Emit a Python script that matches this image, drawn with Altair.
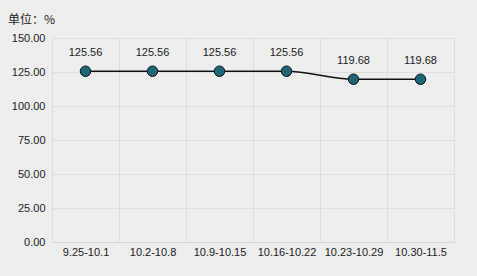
import altair as alt
import pandas as pd

periods = ["9.25-10.1", "10.2-10.8", "10.9-10.15", "10.16-10.22", "10.23-10.29", "10.30-11.5"]
values = [125.56, 125.56, 125.56, 125.56, 119.68, 119.68]
y_ticks = [0, 25, 50, 75, 100, 125, 150]

df = pd.DataFrame({"period": periods, "value": values})

font_num = "Liberation Sans"
font_cjk = "Noto Sans CJK SC"
fs = 11

x = alt.X("period:N", sort=periods, title=None,
          scale=alt.Scale(paddingInner=0, paddingOuter=0),
          axis=alt.Axis(labelAngle=0, labelFont=font_num, labelFontSize=fs, labelColor="#222222",
                        labelPadding=4, ticks=False, domain=True, domainColor="#d8d8d8",
                        grid=True, gridColor="#dedede", tickBand="extent"))
y = alt.Y("value:Q", title=None,
          scale=alt.Scale(domain=[0, 150], nice=False),
          axis=alt.Axis(values=y_ticks, format=".2f", labelFont=font_num, labelFontSize=fs,
                        labelColor="#222222", labelPadding=7, ticks=False, domain=False,
                        grid=True, gridColor="#dedede"))

base = alt.Chart(df).encode(x=x, y=y)

line = base.mark_line(color="#111111", strokeWidth=1.5, interpolate="monotone")
points = base.mark_point(filled=True, size=110, fill="#1b6677", stroke="#111111",
                         strokeWidth=1, opacity=1)
labels = base.mark_text(dy=-18, font=font_num, fontSize=fs, color="#222222").encode(
    text=alt.Text("value:Q", format=".2f"))

unit = alt.Chart(pd.DataFrame({"t": ["单位：%"]})).mark_text(
    align="left", baseline="middle", font=font_cjk, fontSize=12, color="#222222"
).encode(x=alt.value(-44), y=alt.value(-18), text="t:N")

chart = alt.layer(line, points, labels, unit).properties(
    width=402, height=204,
    autosize=alt.AutoSizeParams(type="none"),
    padding={"left": 52, "top": 38, "right": 23, "bottom": 34},
    background="#eeeeee",
).configure_view(stroke=None)

chart.save("out.html", embed_options={"renderer": "svg", "actions": False})
